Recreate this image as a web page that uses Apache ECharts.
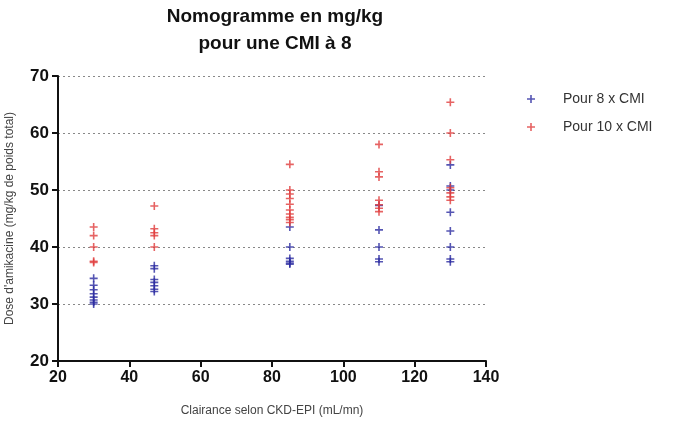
<!DOCTYPE html>
<html><head><meta charset="utf-8">
<script src="https://cdn.jsdelivr.net/npm/echarts@6/dist/echarts.min.js"></script>
<style>html,body{margin:0;padding:0;background:#fff}#c{width:685px;height:421px}</style>
</head><body><div id="c"></div>
<script>
const clearances = [30, 47, 85, 110, 130];
const dose8 = [
  [34.5, 33.3, 32.5, 31.8, 31.2, 30.7, 30.3, 30.0],
  [36.7, 36.2, 34.3, 33.8, 33.2, 32.6, 32.2],
  [43.5, 40.0, 38.0, 37.5, 37.2, 37.0],
  [47.3, 43.0, 40.0, 37.9, 37.4],
  [54.4, 50.7, 50.0, 46.1, 42.8, 40.0, 37.9, 37.4]
];
const dose10 = [
  [43.5, 42.0, 40.0, 37.5, 37.3],
  [47.2, 43.2, 42.5, 42.0, 40.0],
  [54.5, 50.0, 49.3, 48.5, 47.5, 46.5, 45.8, 45.2, 44.8, 44.3],
  [58.0, 53.2, 52.3, 48.2, 47.4, 46.8, 46.2],
  [65.4, 60.0, 55.3, 50.4, 49.5, 48.8, 48.2]
];
const xTicks = [20, 40, 60, 80, 100, 120, 140];
const yTicks = [20, 30, 40, 50, 60, 70];
const seriesNames = ['Pour 8 x CMI', 'Pour 10 x CMI'];

function toPts(groups) {
  const out = [];
  groups.forEach((g, i) => g.forEach(v => out.push([clearances[i], v])));
  return out;
}
const plus = 'path://M-1,-5H1V-1H5V1H1V5H-1V1H-5V-1H-1Z';
const chart = echarts.init(document.getElementById('c'));
chart.setOption({
  animation: false,
  title: {
    text: 'Nomogramme en mg/kg\npour une CMI à 8',
    left: 270, top: -2, textAlign: 'center',
    textStyle: { fontFamily: 'Liberation Sans, Arial', fontSize: 19, fontWeight: 'bold', color: '#111', lineHeight: 27 }
  },
  legend: {
    orient: 'vertical', left: 522, top: 87, itemGap: 14,
    itemWidth: 8, itemHeight: 8,
    textStyle: { fontFamily: 'Liberation Sans, Arial', fontSize: 14, color: '#333', padding: [0, 0, 0, 23] },
    data: seriesNames
  },
  grid: { left: 58, right: 199, top: 76, bottom: 60, outerBoundsMode: 'none', containLabel: false },
  xAxis: {
    type: 'value', min: 20, max: 140, interval: 20,
    name: 'Clairance selon CKD-EPI (mL/mn)', nameLocation: 'middle', nameGap: 44,
    nameTextStyle: { fontFamily: 'Liberation Sans, Arial', fontSize: 12, color: '#444' },
    axisLine: { onZero: false, lineStyle: { color: '#111', width: 2 } },
    axisTick: { show: true, length: 6, lineStyle: { color: '#111', width: 2 } },
    axisLabel: { fontFamily: 'Liberation Sans, Arial', fontSize: 16, fontWeight: 'bold', color: '#111', margin: 9,
      formatter: v => xTicks.includes(v) ? String(v) : '' },
    splitLine: { show: false }
  },
  yAxis: {
    type: 'value', min: 20, max: 70, interval: 10,
    name: "Dose d'amikacine (mg/kg de poids total)", nameLocation: 'middle', nameGap: 42,
    nameTextStyle: { fontFamily: 'Liberation Sans, Arial', fontSize: 12, color: '#444' },
    axisLine: { show: true, onZero: false, lineStyle: { color: '#111', width: 2 } },
    axisTick: { show: true, length: 6, lineStyle: { color: '#111', width: 2 } },
    axisLabel: { fontFamily: 'Liberation Sans, Arial', fontSize: 17, fontWeight: 'bold', color: '#111', margin: 9,
      formatter: v => yTicks.includes(v) ? String(v) : '' },
    splitLine: { show: true, lineStyle: { color: '#888', type: [2, 3], width: 1 } }
  },
  series: [
    { name: seriesNames[0], type: 'scatter', symbol: plus, symbolSize: 8,
      itemStyle: { color: '#2b2ba0' }, data: toPts(dose8) },
    { name: seriesNames[1], type: 'scatter', symbol: plus, symbolSize: 8,
      itemStyle: { color: '#e03c3c' }, data: toPts(dose10) }
  ]
});
</script></body></html>
